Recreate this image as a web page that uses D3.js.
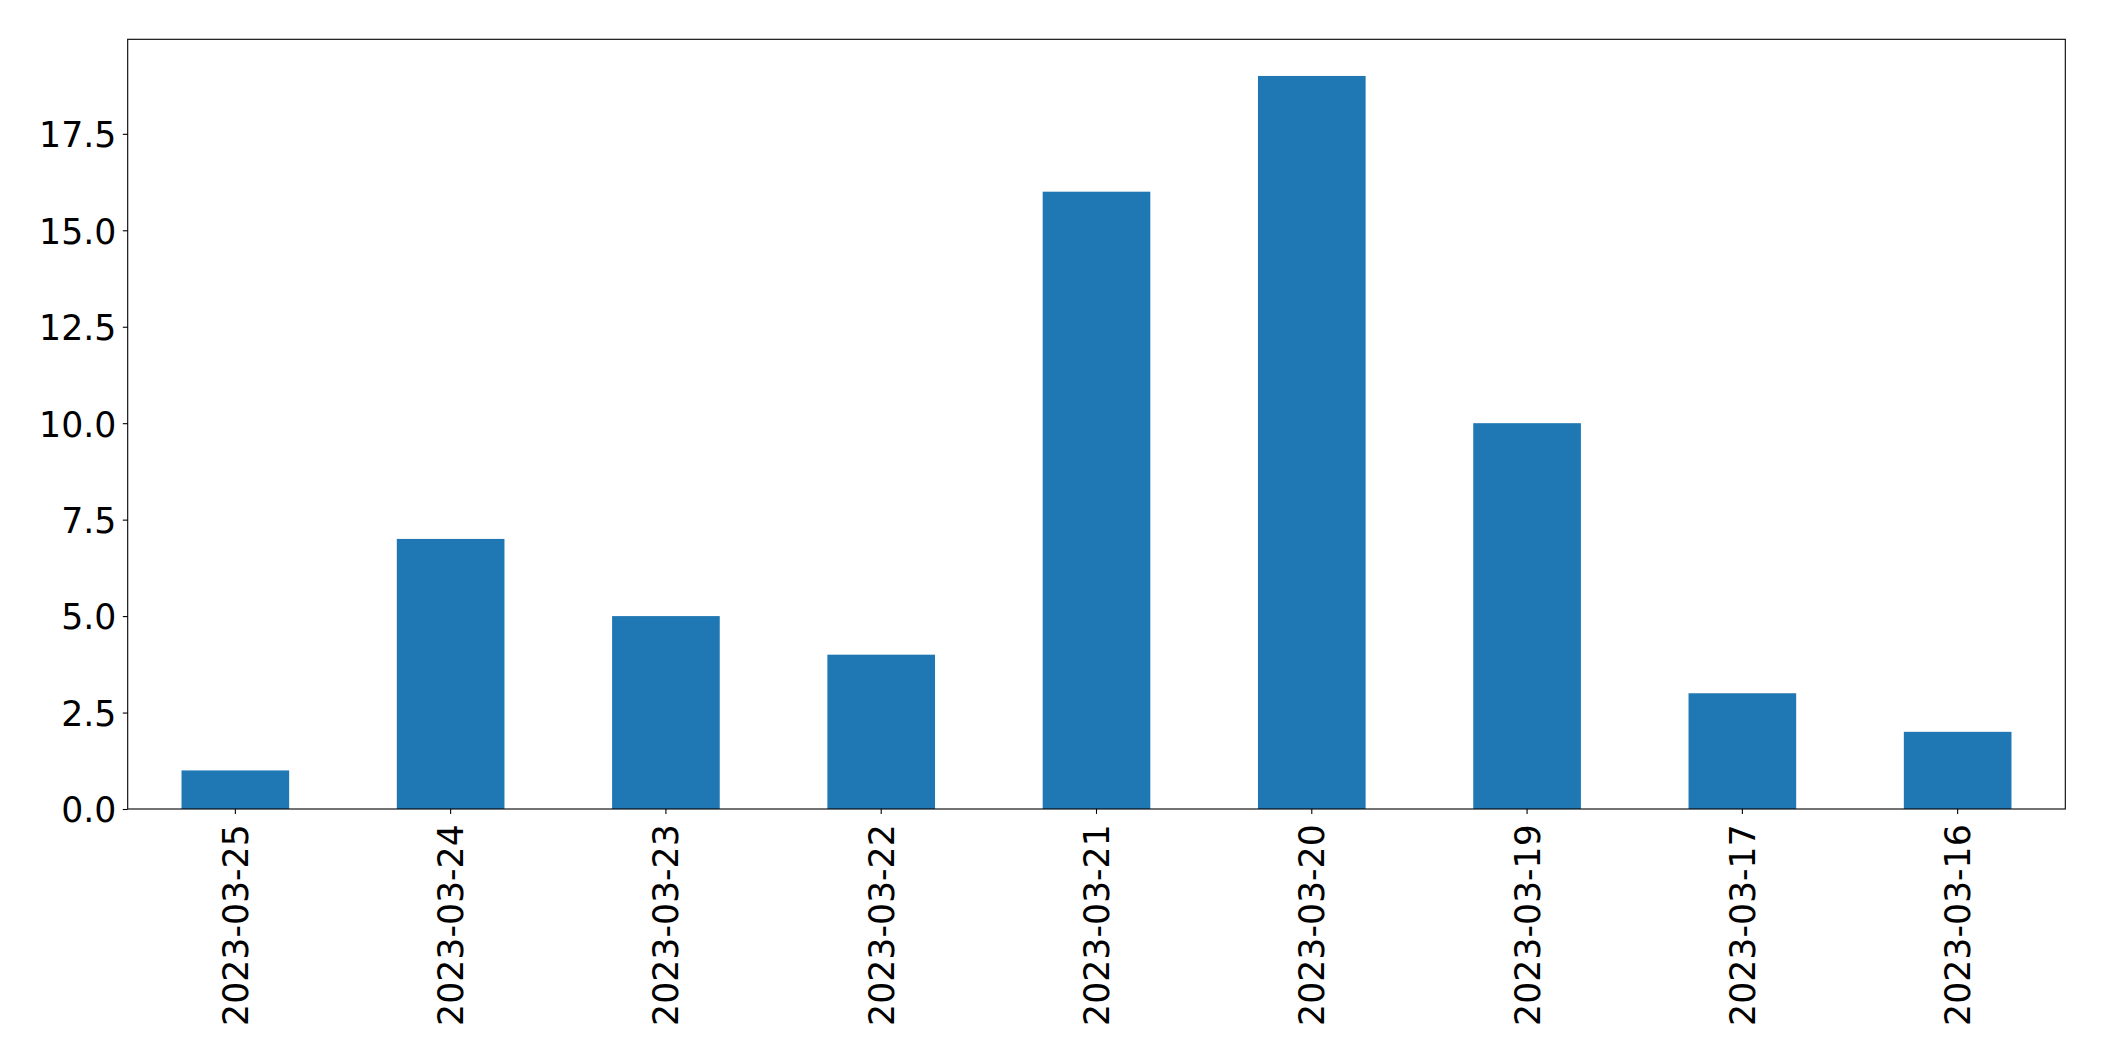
<!DOCTYPE html>
<html><head><meta charset="utf-8">
<script src="https://cdn.jsdelivr.net/npm/d3@7"></script>
<style>body{margin:0;background:#fff}svg{display:block}</style>
</head><body>
<script>
const categories = ["2023-03-25","2023-03-24","2023-03-23","2023-03-22","2023-03-21","2023-03-20","2023-03-19","2023-03-17","2023-03-16"];
const values = [1,7,5,4,16,19,10,3,2];
const yTicks = [0,2.5,5,7.5,10,12.5,15,17.5];

const W = 2104, H = 1061;
const m = {left:127.7, right:2065.3, top:39.3, bottom:809};
const svg = d3.select("body").append("svg").attr("width",W).attr("height",H);

const x = d3.scaleBand().domain(categories).range([m.left,m.right]).paddingInner(0.5).paddingOuter(0.25);
const y = d3.scaleLinear().domain([0, d3.max(values)*1.05]).range([m.bottom,m.top]);

svg.append("g").selectAll("rect").data(values).join("rect")
  .attr("x",(d,i)=>x(categories[i]))
  .attr("width",x.bandwidth())
  .attr("y",d=>y(d))
  .attr("height",d=>y(0)-y(d))
  .attr("fill","#1f77b4");

const font = "DejaVu Sans";
const fs = 34.7;
const yAxis = svg.append("g").attr("transform",`translate(${m.left},0)`)
  .call(d3.axisLeft(y).tickValues(yTicks).tickFormat(d3.format(".1f")).tickSize(4.9).tickPadding(6.5));
const xAxis = svg.append("g").attr("transform",`translate(0,${m.bottom})`)
  .call(d3.axisBottom(x).tickSize(4.9).tickPadding(4.9));
[yAxis,xAxis].forEach(a=>{
  a.select(".domain").remove();
  a.selectAll(".tick line").attr("stroke","#000").attr("stroke-width",1.1);
  a.selectAll("text").attr("font-family",font).attr("font-size",fs).attr("fill","#000");
});
yAxis.selectAll("text").attr("dy","0.37em");
xAxis.selectAll("text")
  .attr("transform","rotate(-90)")
  .attr("text-anchor","end")
  .attr("dy","0.36em")
  .attr("x",-15.3)
  .attr("y",0);

svg.append("rect").attr("x",m.left).attr("y",m.top).attr("width",m.right-m.left).attr("height",m.bottom-m.top)
  .attr("fill","none").attr("stroke","#000").attr("stroke-width",1.1);
</script>
</body></html>
